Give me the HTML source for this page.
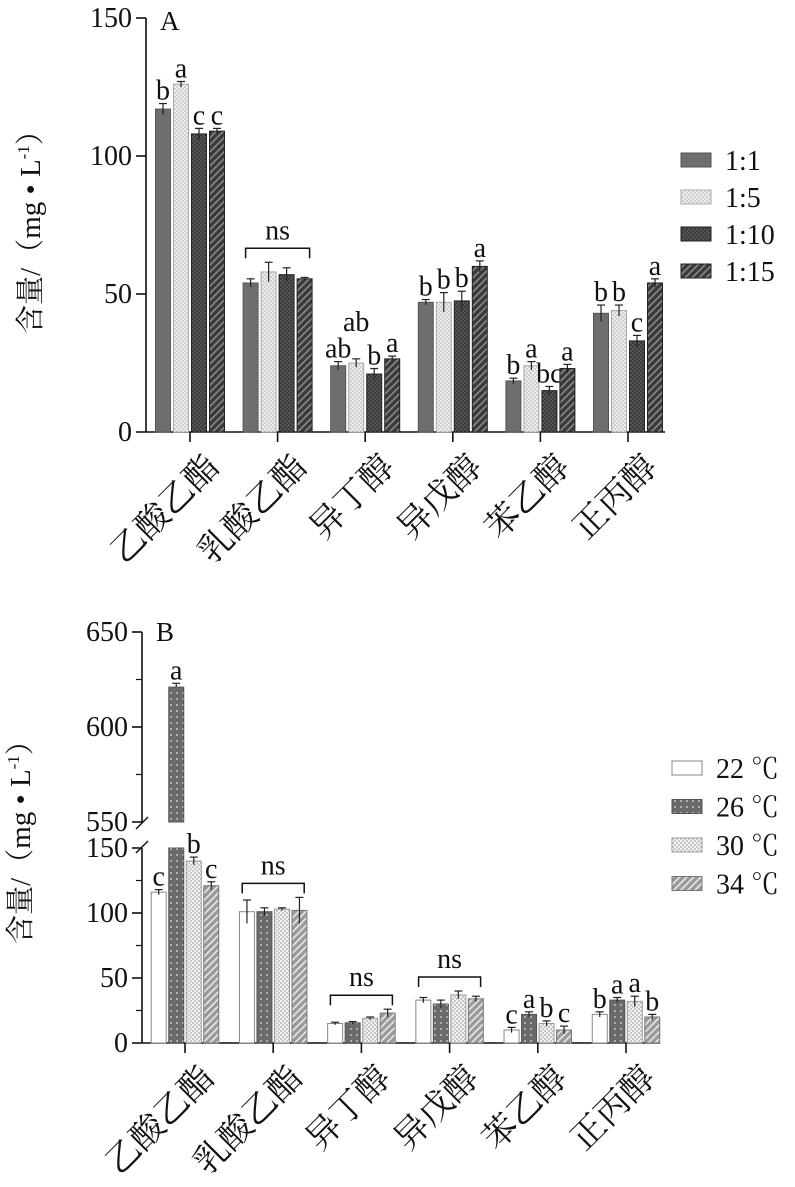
<!DOCTYPE html>
<html><head><meta charset="utf-8"><style>
html,body{margin:0;padding:0;background:#fff;}
svg{display:block;font-family:"Liberation Serif","Noto Serif CJK SC","Noto Sans CJK SC",serif;}
</style></head><body>
<svg id="c" width="795" height="1187" viewBox="0 0 795 1187" xmlns="http://www.w3.org/2000/svg">
<defs>
<pattern id="pA2" width="4" height="4" patternUnits="userSpaceOnUse"><rect width="4" height="4" fill="#d0d0d0"/><circle cx="1" cy="1" r="0.9" fill="#fff"/><circle cx="3" cy="3" r="0.9" fill="#fff"/></pattern>
<pattern id="pA3" width="4" height="4" patternUnits="userSpaceOnUse"><rect width="4" height="4" fill="#3c3c3c"/><circle cx="1" cy="1" r="0.7" fill="#777"/><circle cx="3" cy="3" r="0.7" fill="#777"/></pattern>
<pattern id="pA4" width="5" height="5" patternUnits="userSpaceOnUse" patternTransform="rotate(45)"><rect width="5" height="5" fill="#3a3a3a"/><rect width="1.6" height="5" fill="#8a8a8a"/></pattern>
<pattern id="pB2" width="6" height="6" patternUnits="userSpaceOnUse"><rect width="6" height="6" fill="#6a6a6a"/><circle cx="3" cy="3" r="0.9" fill="#ddd"/></pattern>
<pattern id="pB3" width="4" height="4" patternUnits="userSpaceOnUse"><rect width="4" height="4" fill="#c8c8c8"/><circle cx="1" cy="1" r="1" fill="#fff"/><circle cx="3" cy="3" r="1" fill="#fff"/></pattern>
<pattern id="pB4" width="5" height="5" patternUnits="userSpaceOnUse" patternTransform="rotate(45)"><rect width="5" height="5" fill="#9a9a9a"/><rect width="1.6" height="5" fill="#e8e8e8"/></pattern>
</defs>
</svg>
<script>
const categories=["乙酸乙酯","乳酸乙酯","异丁醇","异戊醇","苯乙醇","正丙醇"];
const seriesA=["1:1","1:5","1:10","1:15"];
const valsA=[[117,54,24,47,18.5,43],[126,58,25,47,24,44],[108,57,21,47.5,15,33],[109,55.5,26.5,60,23,54]];
const errA=[[2,1.5,1.5,1,1,3],[1,3.5,1.5,3.5,1.5,2],[2,2.5,2,3.5,1.5,2],[1,0.5,1,2,1.5,1.5]];
const lettersA=[["b","a","c","c"],null,["ab","ab","b","a"],["b","b","b","a"],["b","a","bc","a"],["b","b","c","a"]];
const ticksA=[0,50,100,150];
const seriesB=["22 ℃","26 ℃","30 ℃","34 ℃"];
const valsB=[[116,101,15,33,10,22],[621,101,15.5,30,22,33],[140,103,19,37,15,32],[121,102,23,34,10,20]];
const errB=[[2,9,1,2,2,2],[2,3,1,3,2,2],[3,1,1,3,2,4],[3,10,3,2,3,2]];
const lettersB=[["c","a","b","c"],null,null,null,["c","a","b","c"],["b","a","a","b"]];
const ticksBlow=[0,50,100,150];
const ticksBup=[550,600,650];

const svg=document.getElementById('c');
const NS='http://www.w3.org/2000/svg';
function mk(t,at,par){const e=document.createElementNS(NS,t);for(const k in at)e.setAttribute(k,at[k]);(par||svg).appendChild(e);return e;}
const fillsA=["#6e6e6e","url(#pA2)","url(#pA3)","url(#pA4)"];
const strokeA=["#555","#aaa","#222","#222"];
const fillsB=["#fff","url(#pB2)","url(#pB3)","url(#pB4)"];
const strokeB=["#888","#555","#999","#777"];

function txt(x,y,s,size,anchor,par){const t=mk('text',{x:x,y:y,'font-size':size,'text-anchor':anchor||'middle',fill:'#111'},par);t.textContent=s;return t;}

function panel(opt){
  const g=mk('g',{});
  
  
  const X=opt.x0, gx=i=>opt.c0+i*opt.gap;
  const ax=mk('g',{},g);
  
  
  opt.segments.forEach(sg=>{
    mk('line',{x1:X,x2:X,y1:sg.y(sg.hi),y2:sg.y(sg.lo),stroke:'#111','stroke-width':1.6},ax);
    sg.ticks.forEach(v=>{mk('line',{x1:X-10,x2:X,y1:sg.y(v),y2:sg.y(v),stroke:'#111','stroke-width':1.6},ax);
      txt(X-14,sg.y(v)+9,String(v),28,'end',ax);});
    (sg.minor||[]).forEach(v=>mk('line',{x1:X-6,x2:X,y1:sg.y(v),y2:sg.y(v),stroke:'#111','stroke-width':1.2},ax));
  });
  const base=opt.segments[0].y(0);
  mk('line',{x1:X,x2:opt.xend,y1:base,y2:base,stroke:'#111','stroke-width':1.6},g);
  categories.forEach((c,i)=>{
    mk('line',{x1:gx(i),x2:gx(i),y1:base,y2:base+10,stroke:'#111','stroke-width':1.6},g);
    const t=txt(gx(i)+14,base+20,c,34,'end',g);
    t.setAttribute('transform','rotate(-45 '+(gx(i)+14)+' '+(base+20)+')');
    t.setAttribute('dy','0.7em');
    
    
  });
  const yt=txt(0,0,'含量/（mg • L',29,'middle',g);
  const ts=mk('tspan',{'font-size':17,dy:-11},yt);ts.textContent='-1';
  const ts2=mk('tspan',{dy:11},yt);ts2.textContent='）';
  yt.setAttribute('transform','translate('+opt.titleX+' '+opt.titleY+') rotate(-90)');
  
  
  txt(X+14,opt.letterY,opt.letter,27,'start',g);
  opt.vals.forEach((ser,s)=>{
    ser.forEach((v,i)=>{
      const x=gx(i)-2*opt.step+s*opt.step+(opt.step-opt.bw)/2;
      const e=opt.err[s][i];
      let topY;
      if(v>opt.breakV){
        const lo=opt.segments[0],up=opt.segments[1];
        const r1=mk('rect',{x:x,y:lo.y(lo.hi),width:opt.bw,height:base-lo.y(lo.hi),fill:opt.fills[s],stroke:opt.strokes[s],'stroke-width':1},g);
        
        
        topY=up.y(v);
        const r2=mk('rect',{x:x,y:topY,width:opt.bw,height:up.y(up.lo)-topY,fill:opt.fills[s],stroke:opt.strokes[s],'stroke-width':1},g);
        
        
        const ye=up.y(v+e);
        mk('line',{x1:x+opt.bw/2,x2:x+opt.bw/2,y1:topY,y2:ye,stroke:'#222','stroke-width':1.2},g);
        mk('line',{x1:x+opt.bw/2-4,x2:x+opt.bw/2+4,y1:ye,y2:ye,stroke:'#222','stroke-width':1.2},g);
        topY=ye;
      } else {
        const y=opt.segments[0].y;
        topY=y(v);
        const r=mk('rect',{x:x,y:topY,width:opt.bw,height:base-topY,fill:opt.fills[s],stroke:opt.strokes[s],'stroke-width':1},g);
        
        
        const y1=y(v+e),y2=y(v-e);
        mk('line',{x1:x+opt.bw/2,x2:x+opt.bw/2,y1:y1,y2:y2,stroke:'#222','stroke-width':1.2},g);
        mk('line',{x1:x+opt.bw/2-4,x2:x+opt.bw/2+4,y1:y1,y2:y1,stroke:'#222','stroke-width':1.2},g);
        topY=y1;
      }
      const L=opt.letters[i];
      if(L){
        let ly=topY-4;
        if(opt.raise&&opt.raise[i]===s) ly-=24;
        txt(x+opt.bw/2,ly,L[s],28,'middle',g);
      }
    });
    const ly=opt.legY+s*opt.legDy;
    const lr=mk('rect',{x:opt.legX,y:ly-7,width:30,height:14,fill:opt.fills[s],stroke:opt.strokes[s],'stroke-width':1},g);
    
    
    const lt=txt(opt.legX+44,ly+10,opt.series[s],28,'start',g);
    
    
  });
  categories.forEach((c,i)=>{
    if(opt.letters[i]) return;
    let m=0;opt.vals.forEach((ser,s)=>{m=Math.max(m,ser[i]+opt.err[s][i]);});
    const y=opt.segments[0].y(m)-14;
    const x1=gx(i)-2*opt.step+4,x2=gx(i)+2*opt.step-4;
    mk('path',{d:'M'+x1+' '+(y+10)+'V'+y+'H'+x2+'V'+(y+10),fill:'none',stroke:'#111','stroke-width':1.5},g);
    txt(gx(i),y-9,'ns',28,'middle',g);
  });
  if(opt.breakV){
    const y1=opt.segments[1].y(opt.segments[1].lo),y2=opt.segments[0].y(opt.segments[0].hi);
    mk('rect',{x:X-3,y:y1+1,width:6,height:y2-y1-2,fill:'#fff'},g);
    mk('line',{x1:X-6,x2:X+6,y1:y1+7,y2:y1-5,stroke:'#111','stroke-width':1.5},g);
    mk('line',{x1:X-6,x2:X+6,y1:y2+5,y2:y2-7,stroke:'#111','stroke-width':1.5},g);
  }
}
panel({name:'panel-a',x0:146,c0:190,gap:87.6,step:18,bw:15,
  segments:[{lo:0,hi:150,ticks:ticksA,y:v=>432-v*2.76}],
  xend:665,vals:valsA,err:errA,letters:lettersA,fills:fillsA,strokes:strokeA,series:seriesA,
  raise:{2:1},titleX:40,titleY:225,letter:'A',letterY:30,legX:681,legY:160,legDy:37});
panel({name:'panel-b',x0:142,c0:185,gap:88.2,step:17.5,bw:15,breakV:150,
  segments:[{lo:0,hi:150,ticks:ticksBlow,minor:[25,75,125],y:v=>1043-v*1.3},
            {lo:550,hi:650,ticks:ticksBup,minor:[575,625],y:v=>822-(v-550)*1.9}],
  xend:660,vals:valsB,err:errB,letters:lettersB,fills:fillsB,strokes:strokeB,series:seriesB,
  titleX:30,titleY:835,letter:'B',letterY:641,legX:672,legY:768,legDy:38.5});
</script>
</body></html>
